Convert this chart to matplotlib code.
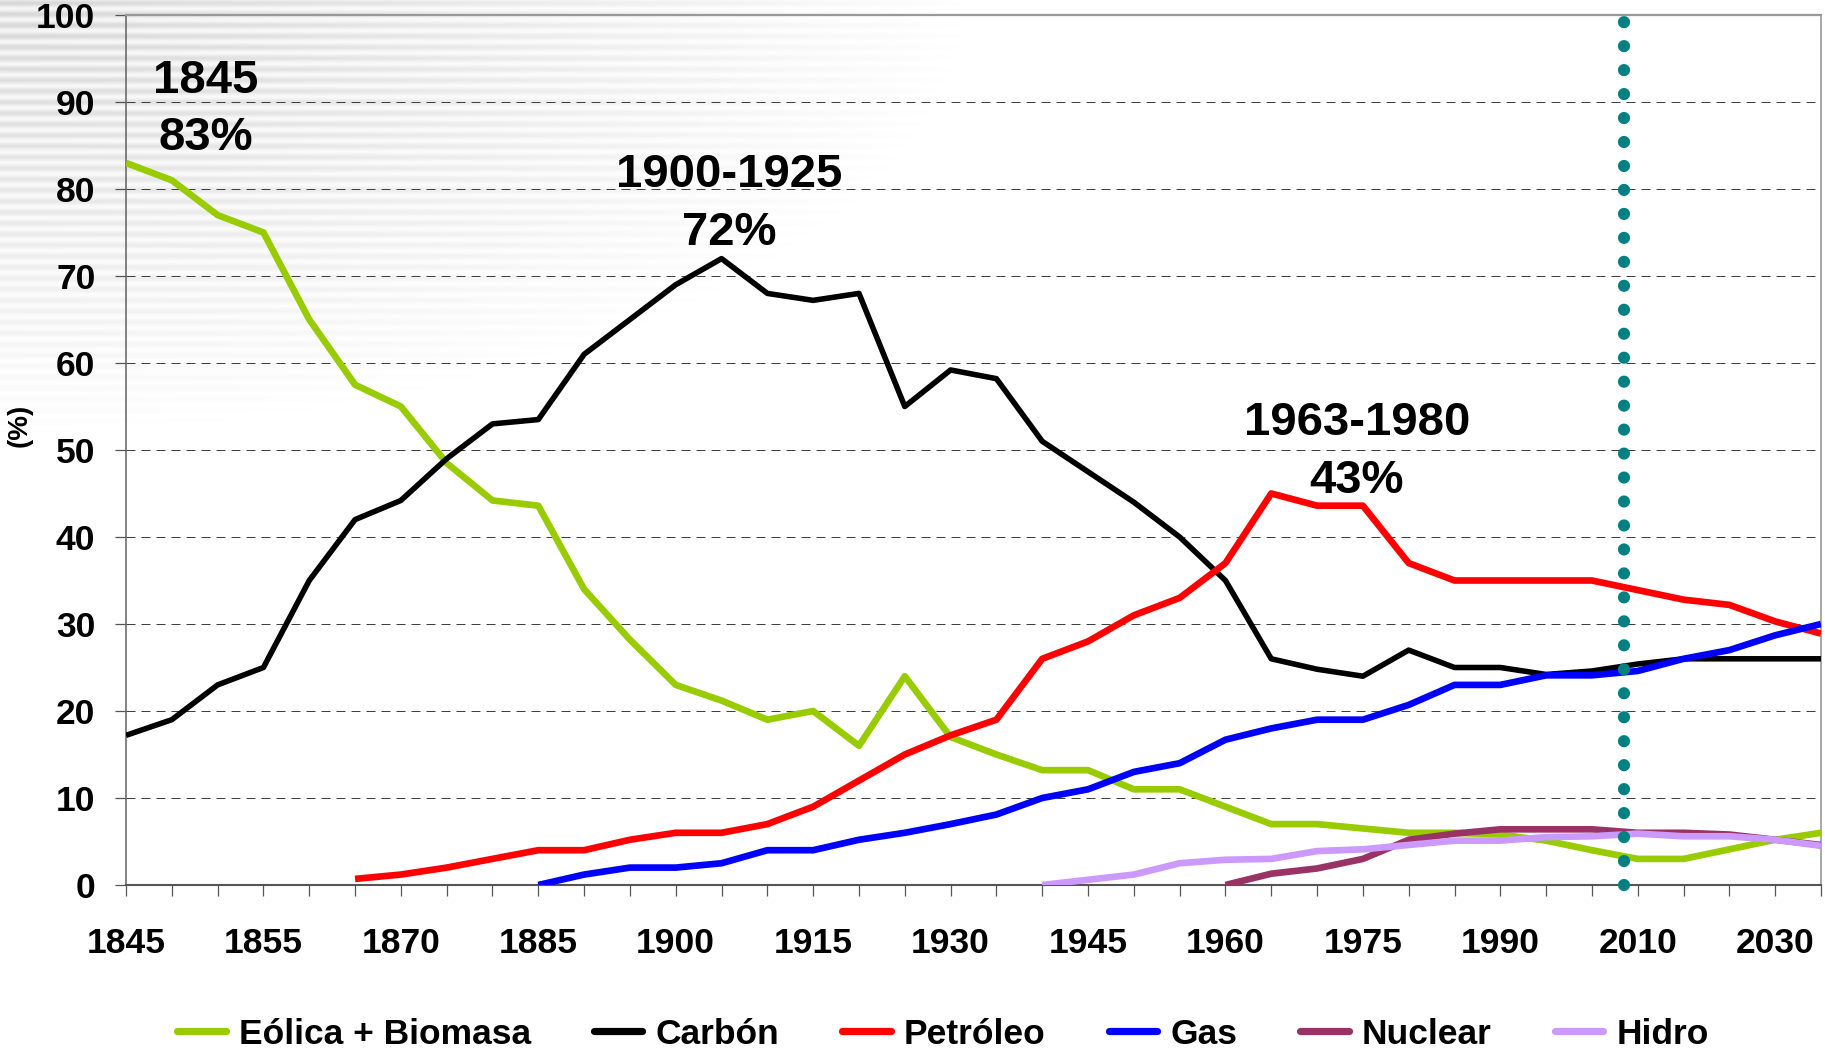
import numpy as np
import matplotlib
matplotlib.use("Agg")
import matplotlib.pyplot as plt
from matplotlib.lines import Line2D

plt.rcParams['font.family'] = ['Liberation Sans', 'DejaVu Sans']
plt.rcParams['font.weight'] = 'bold'

nan = np.nan

# categories are evenly spaced on the axis, only every third one is labelled
tick_pos = [0, 3, 6, 9, 12, 15, 18, 21, 24, 27, 30, 33, 36]
tick_years = ['1845', '1855', '1870', '1885', '1900', '1915', '1930',
              '1945', '1960', '1975', '1990', '2010', '2030']

eolica = [83, 81, 77, 75, 65, 57.5, 55, 48.5, 44.2, 43.6, 34, 28.2, 23, 21.2,
          19, 20, 16, 24, 17, 15, 13.2, 13.2, 11, 11, 9, 7, 7, 6.5, 6, 6, 5.8,
          5.1, 4, 3, 3, 4.1, 5.2, 6]
carbon = [17.2, 19, 23, 25, 35, 42, 44.2, 49, 53, 53.5, 61, 65, 69, 72, 68,
          67.2, 68, 55, 59.2, 58.2, 51, 47.5, 44, 40, 35, 26, 24.8, 24, 27, 25,
          25, 24.2, 24.6, 25.4, 26, 26, 26, 26]
petroleo = [nan] * 5 + [0.7, 1.2, 2, 3, 4, 4, 5.2, 6, 6, 7, 9, 12, 15, 17.2,
                        19, 26, 28, 31, 33, 37, 45, 43.6, 43.6, 37, 35, 35, 35,
                        35, 33.9, 32.8, 32.2, 30.3, 28.9]
gas = [nan] * 9 + [0, 1.2, 2, 2, 2.5, 4, 4, 5.2, 6, 7, 8.1, 10, 11, 13, 14,
                   16.7, 18, 19, 19, 20.7, 23, 23, 24.1, 24.1, 24.6, 26, 27,
                   28.7, 30]
nuclear = [nan] * 24 + [0, 1.3, 1.9, 3, 5.2, 5.9, 6.4, 6.4, 6.4, 6, 6, 5.8,
                        5.2, 4.6]
hidro = [nan] * 20 + [0, 0.6, 1.2, 2.5, 2.9, 3.0, 3.9, 4.1, 4.6, 5.1, 5.1,
                      5.5, 5.6, 5.9, 5.6, 5.6, 5.2, 4.5]

series = [("Eólica + Biomasa", eolica, '#99CC00', 4.8),
          ("Carbón", carbon, '#000000', 4.0),
          ("Petróleo", petroleo, '#FF0000', 4.8),
          ("Gas", gas, '#0000FF', 4.8),
          ("Nuclear", nuclear, '#993366', 4.8),
          ("Hidro", hidro, '#CC99FF', 4.8)]

today_pos = 32.69   # dotted marker line

notes = [("1845", 1.75, 91.0), ("83%", 1.75, 84.5),
         ("1900-1925", 13.17, 80.2), ("72%", 13.17, 73.6),
         ("1963-1980", 26.87, 51.7), ("43%", 26.87, 45.1)]

W, H = 1825, 1052
fig = plt.figure(figsize=(W / 100, H / 100), dpi=100)

# faint striped shading in the upper-left corner
bg = fig.add_axes([0, 0, 1, 1], zorder=0)
yy, xx = np.mgrid[0:H, 0:W]
fade = np.clip(1 - np.sqrt((xx / 980.0) ** 2 + (yy / 440.0) ** 2), 0, 1) ** 0.9
stripes = 0.5 + 0.5 * np.sin(2 * np.pi * yy / 11.0)
img = 1 - fade * (0.04 + 0.12 * stripes)
bg.imshow(img, cmap='gray', vmin=0, vmax=1, aspect='auto',
          interpolation='bilinear')
bg.axis('off')

ax = fig.add_axes([126 / W, 1 - 885 / H, (1821 - 126) / W, (885 - 15) / H],
                  zorder=1)
ax.patch.set_alpha(0)

x = np.arange(len(eolica))
for name, vals, col, lw in series:
    ax.plot(x, vals, color=col, lw=lw, solid_joinstyle='round',
            solid_capstyle='butt', zorder=3)

ax.plot([today_pos, today_pos], [0, 100], color='#008080', lw=8.8,
        ls=(0, (0.001, 1.96)), dash_capstyle='round', zorder=5,
        clip_on=False)

for txt, xp, yp in notes:
    ax.text(xp, yp, txt, ha='center', va='baseline', fontsize=34,
            fontweight='bold', zorder=6)

ax.set_xlim(0, len(eolica) - 1)
ax.set_ylim(0, 100)
ax.set_xticks(x)
labels = [''] * len(x)
for p, t in zip(tick_pos, tick_years):
    labels[p] = t
ax.set_xticklabels(labels)
ax.set_yticks(range(0, 101, 10))
ax.tick_params(axis='x', length=8, width=0.9, color='#555555', pad=22,
               labelsize=25.5)
ax.tick_params(axis='y', length=8, width=0.9, color='#555555', pad=14,
               labelsize=25.5)

for yv in range(10, 100, 10):
    ax.axhline(yv, color='#404040', lw=0.72, ls=(0, (9, 6)), zorder=1)

ax.spines['left'].set_color('#606060')
ax.spines['left'].set_linewidth(1.1)
ax.spines['bottom'].set_color('#555555')
ax.spines['bottom'].set_linewidth(1.5)
ax.spines['top'].set_color('#999999')
ax.spines['top'].set_linewidth(1.6)
ax.spines['right'].set_color('#999999')
ax.spines['right'].set_linewidth(1.2)

fig.text(19.7 / W, 1 - 425 / H, "(%)", rotation=90, ha='center',
         va='center', fontsize=20, fontweight='bold')

handles = [Line2D([], [], color=col, lw=5.2, solid_capstyle='round')
           for name, vals, col, lw in series]
fig.legend(handles, [s[0] for s in series], loc='center', ncol=6,
           bbox_to_anchor=(0.5167, 1 - 1034 / H), frameon=False,
           fontsize=25.5, handlelength=1.37, handletextpad=0.37,
           columnspacing=1.78, borderpad=0, borderaxespad=0)

fig.savefig("out.png", dpi=100)
